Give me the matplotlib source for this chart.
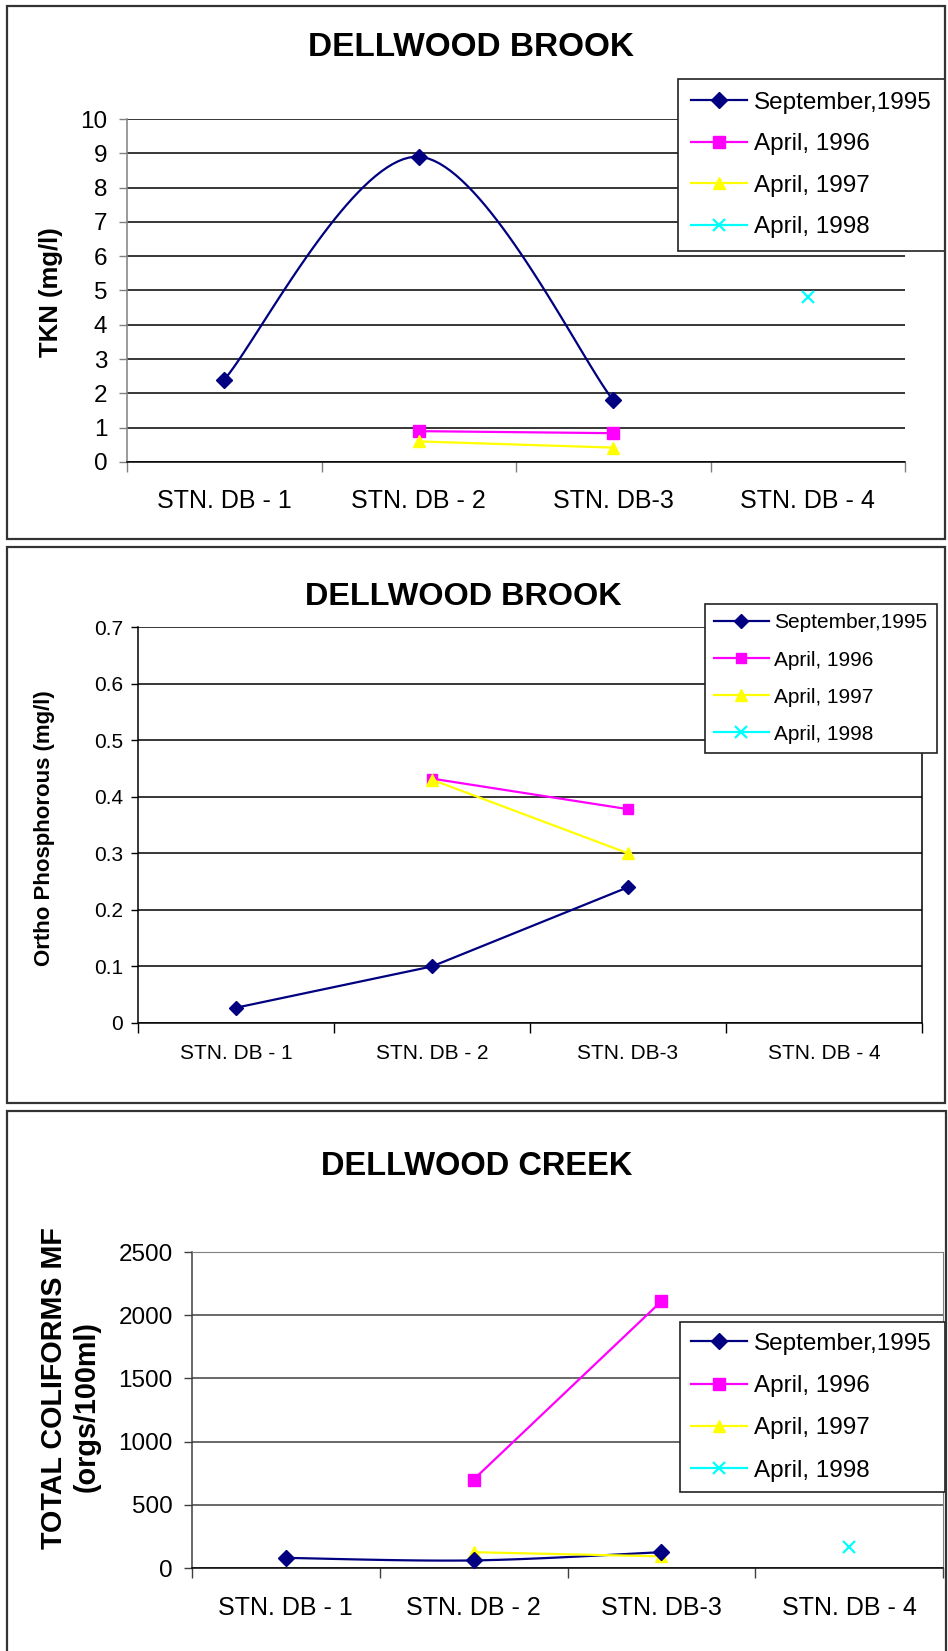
import numpy as np
import matplotlib
matplotlib.use("Agg")
import matplotlib.pyplot as plt
from matplotlib.patches import Rectangle
from matplotlib.lines import Line2D

plt.rcParams['font.family'] = ['Liberation Sans', 'DejaVu Sans']

nan = np.nan
stations = ['STN. DB - 1', 'STN. DB - 2', 'STN. DB-3', 'STN. DB - 4']
series_labels = ['September,1995', 'April, 1996', 'April, 1997', 'April, 1998']

tkn_sep95 = [2.4, 8.9, 1.8, nan]
tkn_apr96 = [nan, 0.9, 0.84, nan]
tkn_apr97 = [nan, 0.6, 0.42, nan]
tkn_apr98 = [nan, nan, nan, 4.8]
tkn_ticks = [0, 1, 2, 3, 4, 5, 6, 7, 8, 9, 10]

op_sep95 = [0.027, 0.1, 0.24, nan]
op_apr96 = [nan, 0.432, 0.378, nan]
op_apr97 = [nan, 0.43, 0.30, nan]
op_apr98 = [nan, nan, nan, nan]
op_ticks = [0, 0.1, 0.2, 0.3, 0.4, 0.5, 0.6, 0.7]

tc_sep95 = [80, 60, 125, nan]
tc_apr96 = [nan, 700, 2110, nan]
tc_apr97 = [nan, 125, 92, nan]
tc_apr98 = [nan, nan, nan, 170]
tc_ticks = [0, 500, 1000, 1500, 2000, 2500]

NAVY = '#000080'
MAG = '#FF00FF'
YEL = '#FFFF00'
CYAN = '#00FFFF'

W, H = 948, 1651
fig = plt.figure(figsize=(W / 100, H / 100), dpi=100)


def fx(x):
    return x / W


def fy(y):
    return 1 - y / H


def add_ax(l, t, r, b):
    return fig.add_axes([fx(l), fy(b), fx(r) - fx(l), fy(t) - fy(b)])


def smooth_xy(xs, ys, n=40):
    # Excel-like smoothed line: cubic Bezier with Catmull-Rom control points
    xs = np.asarray(xs, float)
    ys = np.asarray(ys, float)
    P = np.column_stack([xs, ys])
    out = []
    for i in range(len(P) - 1):
        p0 = P[i - 1] if i > 0 else P[i]
        p1 = P[i]
        p2 = P[i + 1]
        p3 = P[i + 2] if i + 2 < len(P) else P[i + 1]
        c1 = p1 + (p2 - p0) / 6.0
        c2 = p2 - (p3 - p1) / 6.0
        t = np.linspace(0, 1, n)[:, None]
        seg = ((1 - t) ** 3) * p1 + 3 * ((1 - t) ** 2) * t * c1 + 3 * (1 - t) * t ** 2 * c2 + t ** 3 * p2
        out.append(seg if i == 0 else seg[1:])
    s = np.vstack(out)
    return s[:, 0], s[:, 1]


xcat = np.arange(len(stations)) + 0.5


def draw_series(ax, vals, color, marker, ms, smooth=False, lw=1.6):
    v = np.asarray(vals, float)
    ok = ~np.isnan(v)
    xs, ys = xcat[ok], v[ok]
    if smooth and len(xs) > 2:
        sx, sy = smooth_xy(xs, ys)
        ax.plot(sx, sy, color=color, lw=lw, zorder=3, clip_on=False)
        ax.plot(xs, ys, ls='none', marker=marker, ms=ms, color=color, mec=color, zorder=4, clip_on=False)
    else:
        ax.plot(xs, ys, color=color, lw=lw, marker=marker, ms=ms, mec=color, zorder=3, clip_on=False)


def style_axes(ax, yticks, ylim, tick_fs, grid_color, spine_color, ypad, xpad, ylen, fmt):
    ax.set_xlim(0, len(stations))
    ax.set_ylim(*ylim)
    ax.set_yticks(yticks)
    ax.set_yticklabels([fmt(t) for t in yticks], fontsize=tick_fs)
    ax.tick_params(axis='y', direction='out', length=ylen, width=1, color=spine_color, pad=ypad)
    ax.set_xticks(np.arange(len(stations) + 1))
    ax.set_xticklabels([])
    ax.tick_params(axis='x', which='major', direction='out', length=7, width=1, color=spine_color)
    ax.set_xticks(xcat, minor=True)
    ax.set_xticklabels(stations, minor=True, fontsize=tick_fs)
    ax.tick_params(axis='x', which='minor', length=0, pad=xpad)
    for t in yticks:
        ax.axhline(t, color=grid_color, lw=1.1, zorder=1)
    for s in ['top', 'right']:
        ax.spines[s].set_visible(False)
    ax.spines['left'].set_color(spine_color)
    ax.spines['bottom'].set_color('black')
    ax.spines['left'].set_linewidth(1.1)
    ax.spines['bottom'].set_linewidth(1.1)
    ax.set_facecolor('none')


def make_legend(ax, x0, y0, x1, y1, fs, lspace, hlen, msz, bpad=0.45):
    handles = [
        Line2D([], [], color=NAVY, marker='D', ms=msz[0], lw=1.6),
        Line2D([], [], color=MAG, marker='s', ms=msz[1], lw=1.6),
        Line2D([], [], color=YEL, marker='^', ms=msz[2], lw=1.6),
        Line2D([], [], color=CYAN, marker='x', ms=msz[3], mew=1.6, lw=1.6),
    ]
    leg = ax.legend(handles, series_labels, loc='upper left',
                    bbox_to_anchor=(fx(x0), fy(y1), fx(x1) - fx(x0), fy(y0) - fy(y1)),
                    bbox_transform=fig.transFigure, mode='expand', borderaxespad=0,
                    fontsize=fs, frameon=True, fancybox=False, shadow=False,
                    numpoints=1, handlelength=hlen, handletextpad=0.28,
                    labelspacing=lspace, borderpad=bpad)
    fr = leg.get_frame()
    fr.set_edgecolor('#222222')
    fr.set_linewidth(1.2)
    fr.set_alpha(1)
    leg.set_zorder(10)
    return leg


# panel borders
for (l, t, r, b) in [(7, 6, 945, 539), (7, 547, 945, 1103), (7, 1111, 946, 1660)]:
    fig.patches.append(Rectangle((fx(l), fy(b)), fx(r) - fx(l), fy(t) - fy(b),
                                 transform=fig.transFigure, fill=False,
                                 edgecolor='#333333', lw=1.6, zorder=0))

# ---------- Panel 1: TKN ----------
ax1 = add_ax(127, 119, 905, 462)
style_axes(ax1, tkn_ticks, (0, 10), 17.5, 'black', '#808080', 8.5, 19.5, 5.8, lambda v: f"{v:g}")
ax1.tick_params(axis='x', which='minor', labelsize=18)
draw_series(ax1, tkn_sep95, NAVY, 'D', 8, smooth=True)
draw_series(ax1, tkn_apr96, MAG, 's', 8)
draw_series(ax1, tkn_apr97, YEL, '^', 9)
draw_series(ax1, tkn_apr98, CYAN, 'x', 9)
ax1.lines[-1].set_markeredgewidth(1.6)
make_legend(ax1, 678, 79, 945, 247, 17.5, 0.8, 2.3, (8, 8, 9, 9), bpad=0.53)
fig.text(fx(471), fy(48), 'DELLWOOD BROOK', ha='center', va='center', fontsize=24, fontweight='bold')
fig.text(fx(51), fy(292), 'TKN (mg/l)', ha='center', va='center', rotation=90, fontsize=18.5, fontweight='bold')

# ---------- Panel 2: Ortho Phosphorous ----------
ax2 = add_ax(138, 627, 922, 1023)
style_axes(ax2, op_ticks, (0, 0.7), 15, 'black', 'black', 5.8, 15, 5, lambda v: f"{v:g}")
ax2.spines['right'].set_visible(True)
ax2.spines['right'].set_color('black')
ax2.spines['right'].set_linewidth(1.1)
draw_series(ax2, op_sep95, NAVY, 'D', 7.5)
draw_series(ax2, op_apr96, MAG, 's', 7.5)
draw_series(ax2, op_apr97, YEL, '^', 8.5)
make_legend(ax2, 705, 604, 937, 755, 15, 0.87, 2.6, (7, 7.5, 8.5, 8.5))
fig.text(fx(463), fy(597), 'DELLWOOD BROOK', ha='center', va='center', fontsize=23.3, fontweight='bold')
fig.text(fx(45), fy(828), 'Ortho Phosphorous (mg/l)', ha='center', va='center', rotation=90, fontsize=16, fontweight='bold')

# ---------- Panel 3: Total coliforms ----------
ax3 = add_ax(192, 1252, 943, 1568)
style_axes(ax3, tc_ticks, (0, 2500), 17.5, '#404040', '#404040', 8, 20, 5.8, lambda v: f"{v:g}")
ax3.tick_params(axis='x', which='minor', labelsize=18)
ax3.spines['right'].set_visible(True)
ax3.spines['right'].set_color('#808080')
ax3.spines['top'].set_visible(True)
ax3.spines['top'].set_color('#808080')
draw_series(ax3, tc_sep95, NAVY, 'D', 8, smooth=True)
draw_series(ax3, tc_apr96, MAG, 's', 8)
draw_series(ax3, tc_apr97, YEL, '^', 9)
draw_series(ax3, tc_apr98, CYAN, 'x', 9)
ax3.lines[-1].set_markeredgewidth(1.6)
make_legend(ax3, 680, 1322, 945, 1490, 17.5, 0.83, 2.3, (8, 8, 9, 9))
fig.text(fx(477), fy(1166), 'DELLWOOD CREEK', ha='center', va='center', fontsize=23.5, fontweight='bold')
fig.text(fx(54), fy(1388), 'TOTAL COLIFORMS MF', ha='center', va='center', rotation=90, fontsize=20.7, fontweight='bold')
fig.text(fx(87), fy(1407), '(orgs/100ml)', ha='center', va='center', rotation=90, fontsize=20.7, fontweight='bold')

fig.savefig('out.png', dpi=100, facecolor='white')
